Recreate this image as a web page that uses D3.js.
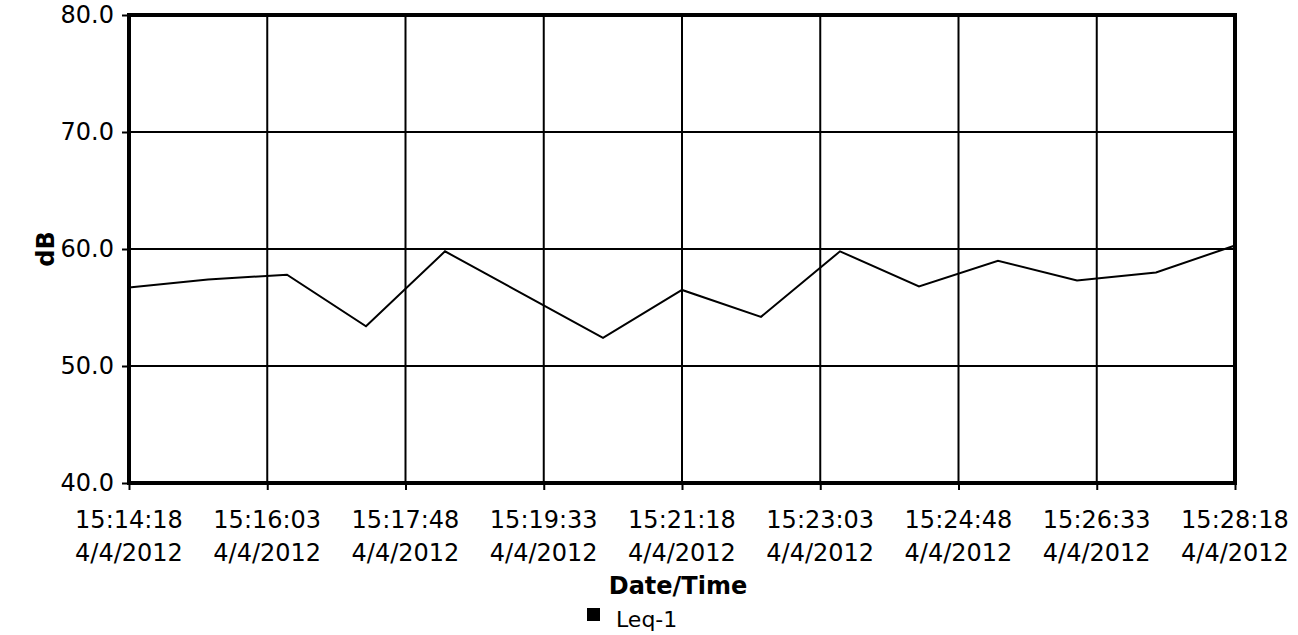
<!DOCTYPE html>
<html>
<head>
<meta charset="utf-8">
<script src="https://cdn.jsdelivr.net/npm/d3@7"></script>
<style>
  body { margin: 0; background: #fff; }
  text { font-family: "DejaVu Sans", Verdana, sans-serif; fill: #000; }
</style>
</head>
<body>
<script>
// data (Leq-1, one sample per minute)
var sample_times = ["15:14:18", "15:15:18", "15:16:18", "15:17:18", "15:18:18",
                    "15:19:18", "15:20:18", "15:21:18", "15:22:18", "15:23:18",
                    "15:24:18", "15:25:18", "15:26:18", "15:27:18", "15:28:18"];
var leq_values = [56.7, 57.4, 57.8, 53.4, 59.8, 56.1, 52.4, 56.5, 54.2, 59.8,
                  56.8, 59.0, 57.3, 58.0, 60.3];
var tick_times = ["15:14:18", "15:16:03", "15:17:48", "15:19:33", "15:21:18",
                  "15:23:03", "15:24:48", "15:26:33", "15:28:18"];
var tick_date = "4/4/2012";
var y_ticks = [40, 50, 60, 70, 80];

var parsetime = d3.timeParse("%m/%d/%Y %H:%M:%S");
function todate(t) { return parsetime("04/04/2012 " + t); }

var margin = {left: 129, top: 15, right: 63, bottom: 152};
var width = 1298, height = 635;

let svg = d3.select("body").append("svg")
    .attr("width", width)
    .attr("height", height);

var x = d3.scaleTime()
    .domain([todate(tick_times[0]), todate(tick_times[tick_times.length - 1])])
    .range([margin.left, width - margin.right]);

var y = d3.scaleLinear()
    .domain([40, 80])
    .range([height - margin.bottom, margin.top]);

// grid lines
svg.append("g").selectAll("line.hgrid")
    .data(y_ticks.slice(1, -1))
    .enter().append("line")
    .attr("class", "hgrid")
    .attr("x1", x.range()[0]).attr("x2", x.range()[1])
    .attr("y1", function(d) { return y(d); })
    .attr("y2", function(d) { return y(d); })
    .attr("stroke", "#000").attr("stroke-width", 2);

svg.append("g").selectAll("line.vgrid")
    .data(tick_times.slice(1, -1))
    .enter().append("line")
    .attr("class", "vgrid")
    .attr("y1", y.range()[0]).attr("y2", y.range()[1])
    .attr("x1", function(d) { return x(todate(d)); })
    .attr("x2", function(d) { return x(todate(d)); })
    .attr("stroke", "#000").attr("stroke-width", 2);

// data line
var line = d3.line()
    .x(function(d, i) { return x(todate(sample_times[i])); })
    .y(function(d) { return y(d); });

svg.append("path")
    .datum(leq_values)
    .attr("d", line)
    .attr("fill", "none")
    .attr("stroke", "#000")
    .attr("stroke-width", 2);

// frame
svg.append("rect")
    .attr("x", x.range()[0]).attr("y", y.range()[1])
    .attr("width", x.range()[1] - x.range()[0])
    .attr("height", y.range()[0] - y.range()[1])
    .attr("fill", "none")
    .attr("stroke", "#000")
    .attr("stroke-width", 4);

// y axis
var yAxis = d3.axisLeft(y)
    .tickValues(y_ticks)
    .tickSize(7)
    .tickPadding(8)
    .tickFormat(d3.format(".1f"));

var yg = svg.append("g")
    .attr("transform", "translate(" + x.range()[0] + ",0)")
    .call(yAxis);
yg.select(".domain").remove();
yg.selectAll("line").attr("stroke-width", 2);
yg.selectAll("text").attr("font-size", 24).attr("font-family", "DejaVu Sans");

// x axis
var xAxis = d3.axisBottom(x)
    .tickValues(tick_times.map(todate))
    .tickSize(7)
    .tickFormat("");

var xg = svg.append("g")
    .attr("transform", "translate(0," + y.range()[0] + ")")
    .call(xAxis);
xg.select(".domain").remove();
xg.selectAll("line").attr("stroke-width", 2);

var xlabels = svg.append("g").selectAll("text")
    .data(tick_times)
    .enter().append("text")
    .attr("text-anchor", "middle")
    .attr("font-size", 24)
    .attr("x", function(d) { return x(todate(d)); });
xlabels.append("tspan")
    .attr("y", 528)
    .attr("x", function(d) { return x(todate(d)); })
    .text(function(d) { return d; });
xlabels.append("tspan")
    .attr("y", 561)
    .attr("x", function(d) { return x(todate(d)); })
    .text(tick_date);

// axis titles
svg.append("text")
    .text("Date/Time")
    .attr("x", 678).attr("y", 594)
    .attr("text-anchor", "middle")
    .attr("font-size", 24)
    .attr("font-weight", "bold");

svg.append("text")
    .text("dB")
    .attr("transform", "translate(54," + ((y.range()[0] + y.range()[1]) / 2) + ") rotate(-90)")
    .attr("text-anchor", "middle")
    .attr("font-size", 24)
    .attr("font-weight", "bold");

// legend
svg.append("rect")
    .attr("x", 587).attr("y", 608)
    .attr("width", 13).attr("height", 13)
    .attr("fill", "#000");
svg.append("text")
    .text("Leq-1")
    .attr("x", 616).attr("y", 627)
    .attr("font-size", 22);
</script>
</body>
</html>
